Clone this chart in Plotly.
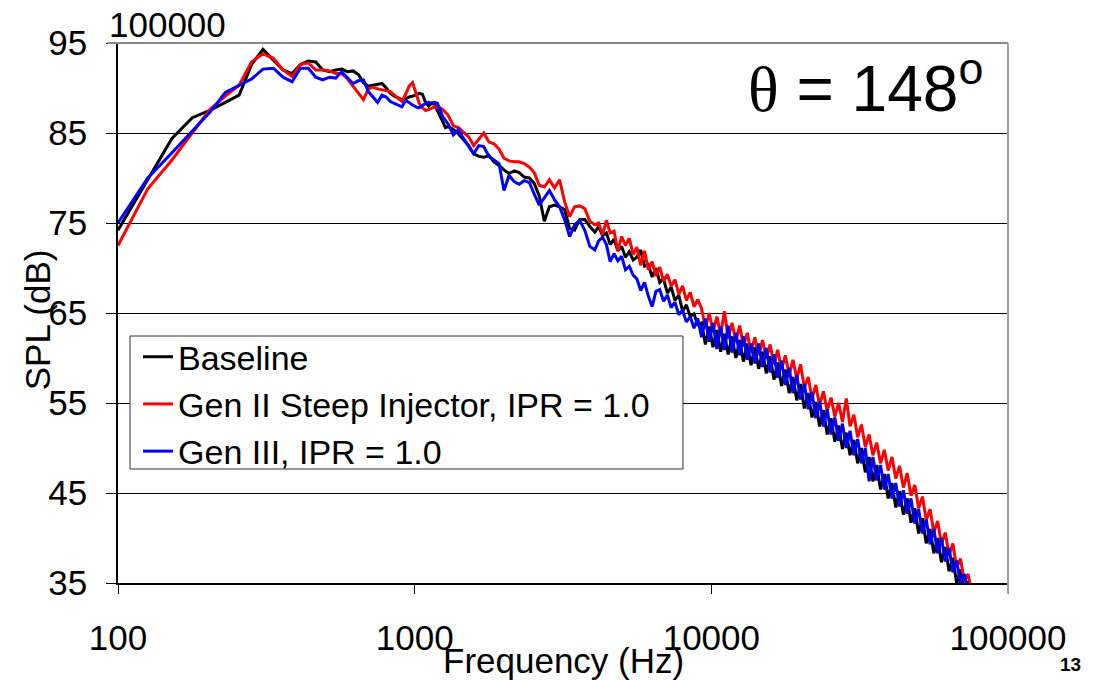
import plotly.graph_objects as go

# ---------------- data ----------------
freq_low = [100, 126, 152, 178, 204, 230, 256, 282, 308, 334, 360, 386, 412, 438, 464, 490,
            516, 542, 568, 594, 620, 646, 672, 698, 724, 750, 776, 802, 828, 854, 880, 906,
            932, 958, 984, 1010, 1036, 1062, 1088, 1114, 1140, 1166, 1192, 1218, 1244, 1270, 1296]
freq_mid = [1350, 1405, 1460, 1520, 1580, 1645, 1710, 1780, 1850, 1925, 2000, 2080, 2165, 2250,
            2340, 2435, 2530, 2630, 2735, 2845, 2960, 3080, 3200, 3330, 3460, 3600, 3745, 3895, 4050]
freq_high = [4170, 4300, 4430, 4560, 4700, 4840, 4985, 5135, 5290, 5450,
             5610, 5780, 5955, 6130, 6315, 6505, 6700, 6900, 7110, 7320,
             7540, 7770, 8000, 8240, 8490, 8740, 9000, 9270, 9550, 9840,
             10130, 10440, 10750, 11070, 11400, 11740, 12100, 12460, 12830, 13220,
             13610, 14020, 14440, 14880, 15320, 15780, 16260, 16740, 17250, 17760,
             18300, 18840, 19410, 19990, 20590, 21210, 21840, 22500, 23170, 23870,
             24580, 25320, 26080, 26860, 27670, 28500, 29350, 30230, 31140, 32070,
             33040, 34030, 35050, 36100, 37180, 38300, 39450, 40630, 41850, 43100,
             44400, 45730, 47100, 48510, 49970, 51470, 53010, 54600, 56240, 57930,
             59660, 61450, 63300, 65200, 67150, 69170, 71240, 73380, 75580]
freq = freq_low + freq_mid + freq_high

baseline = [
    74.2, 79.9, 84.4, 86.7, 87.5, 88.4, 89.2, 92.6, 94.3, 93.1,
    92.0, 91.6, 92.6, 93.0, 92.9, 92.0, 91.8, 92.0, 92.1, 91.8,
    91.9, 91.5, 90.6, 90.2, 90.3, 90.4, 90.5, 90.0, 89.4, 89.1,
    88.9, 88.7, 88.8, 89.0, 89.1, 89.2, 89.4, 89.3, 88.4, 88.0,
    88.3, 88.2, 87.5, 86.8, 86.2, 85.6, 85.7,
    85.4, 84.9, 84.3, 83.6, 82.7, 82.4, 82.3, 82.5, 81.8, 81.4,
    80.9, 80.5, 80.8, 80.6, 80.1, 80.0, 79.4, 78.0, 75.2, 76.8,
    77.0, 76.8, 76.5, 74.4, 74.2, 75.4, 75.4, 74.6, 74.0,
    74.6, 73.6, 73.9, 72.6, 73.2, 71.9, 72.4, 71.2, 71.8, 70.9,
    71.2, 72.0, 70.2, 70.4, 69.0, 70.0, 68.4, 68.8, 67.2, 67.9,
    66.4, 67.0, 65.2, 65.9, 64.6, 64.9, 63.7,
    63.9, 61.5, 63.5, 61.2, 63.1, 60.7, 62.7, 60.4, 62.4, 60.0,
    62.0, 59.6, 61.6, 59.2, 61.2, 58.8, 60.7, 58.3, 60.2, 57.6,
    59.5, 56.9, 58.7, 56.1, 57.9, 55.3, 57.1, 54.4, 56.1, 53.4,
    55.1, 52.4, 54.2, 51.5, 53.3, 50.7, 52.5, 49.9, 51.7, 49.2,
    50.9, 48.3, 50.0, 47.3, 49.0, 46.3, 48.1, 45.4, 47.1, 44.4,
    46.1, 43.4, 45.2, 42.6, 44.4, 41.7, 43.3, 40.5, 42.2, 39.4,
    41.0, 38.3, 40.0, 37.3, 39.0, 36.3, 37.8, 34.9, 36.5, 33.8,
    35.2, 32.4]

gen2 = [
    72.5, 78.8, 82.0, 85.0, 87.6, 89.1, 90.3, 92.9, 93.8, 93.3,
    92.0, 91.3, 92.6, 92.8, 92.0, 92.0, 91.9, 91.6, 91.6, 91.0,
    90.2, 89.4, 88.7, 89.9, 90.1, 89.9, 89.8, 89.7, 89.6, 89.2,
    88.8, 88.5, 89.3, 90.2, 90.6, 89.4, 88.3, 87.8, 87.5, 87.6,
    87.8, 87.9, 87.9, 87.8, 87.6, 87.3, 87.0,
    85.8, 85.6, 85.1, 84.6, 83.6, 84.3, 85.0, 84.0, 83.8, 83.2,
    82.2, 81.9, 81.8, 81.8, 81.6, 81.2, 80.6, 79.2, 79.0, 79.8,
    78.9, 79.8, 77.4, 75.7, 76.8, 76.9, 76.6, 75.2, 74.8,
    75.0, 73.7, 75.3, 73.9, 74.1, 71.9, 73.5, 72.5, 73.3, 71.5,
    72.3, 70.3, 71.9, 69.8, 70.7, 69.1, 70.1, 68.5, 69.3, 68.0,
    68.7, 67.1, 68.0, 66.4, 67.3, 65.7, 66.5,
    65.5, 63.3, 65.0, 62.9, 64.6, 62.6, 65.2, 62.2, 63.9, 61.9,
    63.6, 61.3, 62.8, 60.6, 62.3, 60.3, 62.0, 59.9, 61.5, 59.3,
    60.9, 58.7, 60.3, 58.1, 59.8, 57.7, 59.3, 56.7, 57.9, 55.5,
    57.0, 54.7, 56.3, 54.1, 55.6, 53.5, 55.0, 52.9, 55.5, 52.4,
    53.7, 51.2, 52.6, 50.1, 51.5, 49.2, 50.6, 48.3, 49.8, 47.5,
    49.0, 46.6, 48.0, 45.6, 47.2, 44.7, 45.9, 43.3, 44.6, 42.0,
    43.2, 40.6, 41.9, 39.3, 40.6, 38.1, 39.4, 36.7, 37.7, 35.2,
    36.0, 33.8]

gen3 = [
    75.0, 80.0, 82.8, 85.2, 87.3, 89.5, 90.3, 91.0, 92.1, 92.2,
    91.2, 90.7, 92.2, 92.2, 91.2, 90.9, 91.2, 91.1, 91.8, 91.1,
    90.5, 90.8, 90.9, 89.6, 89.0, 88.4, 89.2, 89.0, 88.5, 88.3,
    88.1, 87.9, 88.6, 88.4, 88.1, 87.9, 87.8, 88.1, 88.3, 88.4,
    88.3, 88.4, 88.3, 87.6, 86.8, 86.4, 86.0,
    84.8, 85.4, 84.4, 83.6, 82.7, 83.6, 83.5, 82.4, 82.0, 81.6,
    78.6, 80.3, 79.6, 79.3, 79.7, 79.5, 78.2, 77.0, 77.8, 78.6,
    77.6, 76.8, 75.4, 73.5, 74.8, 75.3, 74.2, 72.4, 72.0,
    73.0, 73.4, 72.6, 70.7, 71.6, 70.8, 71.3, 69.8, 70.2, 69.2,
    68.8, 67.5, 68.4, 66.9, 65.7, 67.4, 67.6, 66.3, 67.0, 65.6,
    66.2, 64.8, 65.3, 64.0, 64.6, 63.3, 64.4,
    62.3, 64.4, 61.8, 63.9, 61.0, 63.5, 60.9, 63.6, 60.6, 62.8,
    60.3, 62.4, 59.8, 61.6, 59.4, 61.6, 59.0, 61.1, 58.4, 60.4,
    57.8, 59.7, 57.0, 58.9, 56.1, 58.1, 55.4, 57.1, 54.3, 56.2,
    53.3, 55.2, 52.4, 54.3, 51.5, 53.4, 50.8, 52.7, 50.0, 51.9,
    49.2, 51.0, 48.3, 50.0, 46.3, 49.0, 46.4, 48.1, 45.4, 47.1,
    44.4, 46.1, 43.5, 45.3, 42.7, 44.4, 41.6, 43.2, 40.5, 42.1,
    39.3, 41.0, 38.3, 40.0, 37.4, 38.9, 36.2, 37.5, 34.9, 36.0,
    34.0, 33.0]

series_names = ["Baseline", "Gen II Steep Injector, IPR = 1.0", "Gen III, IPR = 1.0"]
series_values = [baseline, gen2, gen3]
series_colors = ["#000000", "#FF0000", "#0000FF"]

x_ticks = [100, 1000, 10000, 100000]
x_tick_labels = ["100", "1000", "10000", "100000"]
y_ticks = [35, 45, 55, 65, 75, 85, 95]
y_tick_labels = ["35", "45", "55", "65", "75", "85", "95"]

# ---------------- figure ----------------
FONT = "Liberation Sans, Arial, sans-serif"
TXT = 35
fig = go.Figure()
for name, vals, color in zip(series_names, series_values, series_colors):
    fig.add_trace(go.Scatter(x=freq, y=vals, mode="lines", name=name,
                             line=dict(color=color, width=3)))

fig.update_layout(
    width=1097, height=680,
    margin=dict(l=118, r=89, t=43, b=97),
    paper_bgcolor="white", plot_bgcolor="white",
    font=dict(family=FONT, size=TXT, color="black"),
    showlegend=True,
    legend=dict(x=0.0225, y=0.472, xanchor="left", yanchor="top",
                bgcolor="rgba(0,0,0,0)", borderwidth=0,
                font=dict(family=FONT, size=34, color="black"),
                tracegroupgap=0, itemwidth=30),
    xaxis=dict(type="log", range=[2, 5], tickvals=x_ticks, ticktext=x_tick_labels,
               ticks="outside", ticklen=9, tickwidth=1, tickcolor="black",
               showgrid=False, zeroline=False, showline=True, linecolor="black",
               linewidth=1.5, tickfont=dict(family=FONT, size=TXT, color="black"),
               ticklabelstandoff=14),
    yaxis=dict(range=[35, 95], tickvals=y_ticks, ticktext=y_tick_labels,
               ticks="outside", ticklen=10, tickwidth=1, tickcolor="black",
               showgrid=True, gridcolor="black", gridwidth=1, zeroline=False,
               showline=True, linecolor="black", linewidth=1.5,
               tickfont=dict(family=FONT, size=TXT, color="black"),
               ticklabelstandoff=12),
    shapes=[
        # legend frame
        dict(type="rect", xref="paper", yref="paper", x0=0.0135, x1=0.6348, y0=0.2111, y1=0.4574,
             fillcolor="white", line=dict(color="#333333", width=1), layer="above"),
        # plot-area frame (top and right, grey)
        dict(type="line", xref="paper", yref="paper", x0=-0.012, x1=1, y0=1, y1=1,
             line=dict(color="#8a8a8a", width=2), layer="above"),
        dict(type="line", xref="paper", yref="paper", x0=1, x1=1, y0=-0.02, y1=1,
             line=dict(color="#a0a0a0", width=2), layer="above"),
    ],
    annotations=[
        dict(xref="paper", yref="paper", x=0.84, y=0.924, xanchor="center", yanchor="middle",
             text='<span style="font-family:Liberation Serif">θ</span> = 148<sup>o</sup>',
             showarrow=False, font=dict(family=FONT, size=64, color="black")),
        dict(xref="paper", yref="paper", x=-0.012, y=1.035, xanchor="left", yanchor="middle",
             text="100000", showarrow=False, font=dict(family=FONT, size=TXT, color="black")),
        dict(xref="paper", yref="paper", x=0.5, y=-0.144, xanchor="center", yanchor="middle",
             text="Frequency (Hz)", showarrow=False, font=dict(family=FONT, size=TXT, color="black")),
        dict(xref="paper", yref="paper", x=-0.0907, y=0.487, xanchor="center", yanchor="middle",
             text="SPL (dB)", textangle=-90, showarrow=False,
             font=dict(family=FONT, size=TXT, color="black")),
        dict(xref="paper", yref="paper", x=1.070, y=-0.150, xanchor="center", yanchor="middle",
             text="<b>13</b>", showarrow=False, font=dict(family=FONT, size=19, color="black")),
    ],
)

fig.write_html("out.html")
